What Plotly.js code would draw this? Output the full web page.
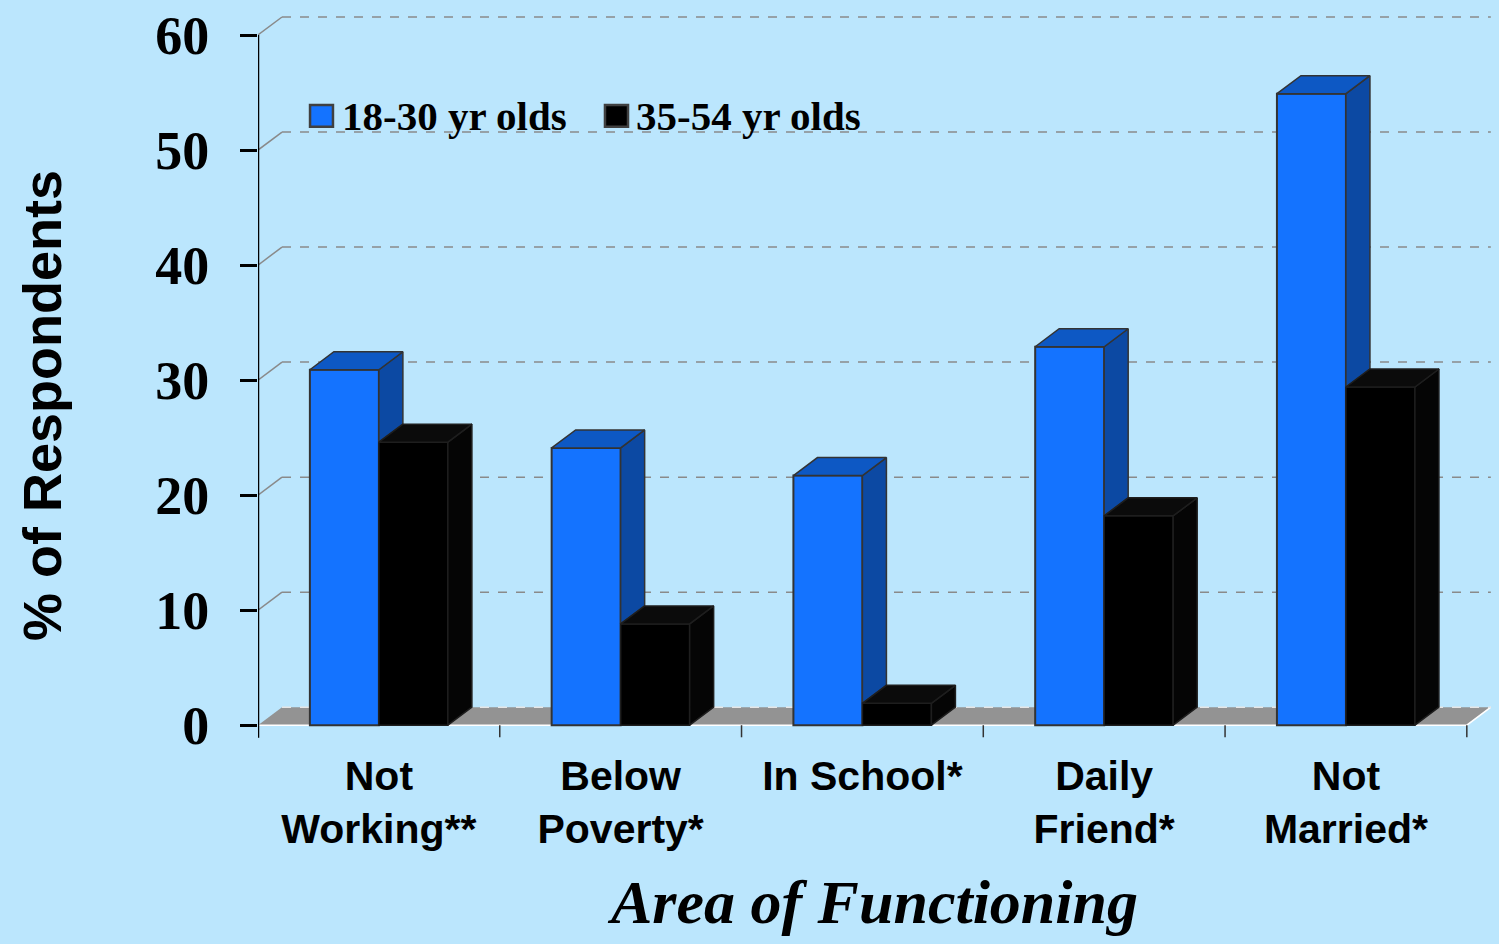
<!DOCTYPE html>
<html>
<head>
<meta charset="utf-8">
<script src="https://cdn.plot.ly/plotly-3.0.1.min.js"></script>
<style>
  html, body { margin: 0; padding: 0; background: #BBE6FD; }
  #chart { width: 1499px; height: 944px; }
</style>
</head>
<body>
<div id="chart"></div>
<script>
// ---- data ----
const categories = ['Not<br>Working**', 'Below<br>Poverty*', 'In School*', 'Daily<br>Friend*', 'Not<br>Married*'];
const young = [30.9, 24.1, 21.7, 32.9, 54.9];   // 18-30 yr olds
const older = [24.6, 8.8, 1.9, 18.2, 29.4];     // 35-54 yr olds
const seriesNames = ['18-30 yr olds', '35-54 yr olds'];
const yTicks = [0, 10, 20, 30, 40, 50, 60];
const yTitle = '% of Respondents';
const xTitle = 'Area of Functioning';

// ---- 3D look parameters (style) ----
const W = 0.2854;   // bar width in category units
const DX = 0.0993;  // depth offset (x, category units)
const DY = 1.565;   // depth offset (y, value units)
const BG = '#BBE6FD';
const BLUE = '#1473FF', BLUE_TOP = '#0D58C4', BLUE_SIDE = '#0C49A3';
const BLK = '#000000', BLK_TOP = '#0B0B0B', BLK_SIDE = '#050505';

const idx = categories.map((_, i) => i);
const xMin = -0.5, xMax = categories.length - 0.5;

function poly(list) {
  const xs = [], ys = [];
  list.forEach(p => { p.forEach(q => { xs.push(q[0]); ys.push(q[1]); }); xs.push(p[0][0]); ys.push(p[0][1]); xs.push(null); ys.push(null); });
  return {xs, ys};
}
function topFace(left, v) {
  return [[left, v], [left + W, v], [left + W + DX, v + DY], [left + DX, v + DY]];
}
function sideFace(right, low, v) {
  return [[right, low], [right + DX, low + DY], [right + DX, v + DY], [right, v]];
}

const blueSide = poly(idx.filter(i => young[i] > older[i]).map(i => sideFace(i, Math.max(older[i], 0), young[i])));
const blueTop = poly(idx.map(i => topFace(i - W, young[i])));
const blackSide = poly(idx.map(i => sideFace(i + W, 0, older[i])));
const blackTop = poly(idx.map(i => topFace(i, older[i])));

function faceTrace(p, fill, line, name) {
  return {type: 'scatter', mode: 'lines', x: p.xs, y: p.ys, fill: 'toself', fillcolor: fill,
          line: {color: line, width: 1.5}, hoverinfo: 'skip', showlegend: false, name: name};
}

const traces = [
  {type: 'bar', name: seriesNames[0], x: idx, y: young, width: W, offset: -W,
   marker: {color: BLUE, line: {color: '#333333', width: 2}}, showlegend: false},
  {type: 'bar', name: seriesNames[1], x: idx, y: older, width: W, offset: 0,
   marker: {color: BLK, line: {color: '#1e1e1e', width: 1.5}}, showlegend: false},
  faceTrace(blueSide, BLUE_SIDE, '#333333', 'side1'),
  faceTrace(blueTop, BLUE_TOP, '#333333', 'top1'),
  faceTrace(blackSide, BLK_SIDE, '#1e1e1e', 'side2'),
  faceTrace(blackTop, BLK_TOP, '#1e1e1e', 'top2')
];

// ---- back wall gridlines, floor, axis line (built from tick values / category count) ----
const shapes = [];
shapes.push({type: 'path', xref: 'x', yref: 'y', layer: 'below',
  path: `M${xMin},0 L${xMax},0 L${xMax + DX},${DY} L${xMin + DX},${DY} Z`,
  fillcolor: '#939393', line: {width: 0}});
shapes.push({type: 'path', xref: 'x', yref: 'y', layer: 'below',
  path: `M${xMin},0 L${xMax},0 L${xMax + DX},${DY}`, line: {color: '#FFFFFF', width: 1.5}});
yTicks.forEach(v => {
  shapes.push({type: 'line', xref: 'x', yref: 'y', layer: 'below',
    x0: xMin + DX, x1: xMax + DX, y0: v + DY, y1: v + DY,
    line: {color: v === 0 ? '#E6E6E6' : '#8A8A8A', width: 1.5, dash: 'dash'}});
  if (v > 0) shapes.push({type: 'line', xref: 'x', yref: 'y', layer: 'below',
    x0: xMin, x1: xMin + DX, y0: v, y1: v + DY, line: {color: '#8A8A8A', width: 1.5}});
});
// category boundary tick marks
for (let b = 0; b <= categories.length; b++) {
  shapes.push({type: 'line', xref: 'x', yref: 'y', x0: xMin + b, x1: xMin + b, y0: 0, y1: -1.05,
    line: {color: '#333333', width: 1.5}});
}
// y axis line
shapes.push({type: 'line', xref: 'x', yref: 'y', x0: xMin, x1: xMin, y0: -1.1, y1: yTicks[yTicks.length - 1],
  line: {color: '#000000', width: 2.5}});

// ---- manual legend (paper coords) ----
const legendItems = [
  {x0: 0.0422, x1: 0.0608, tx: 0.0665, color: BLUE},
  {x0: 0.2814, x1: 0.3001, tx: 0.3050, color: BLK}
];
const annotations = [];
legendItems.forEach((it, k) => {
  shapes.push({type: 'rect', xref: 'paper', yref: 'paper', x0: it.x0, x1: it.x1, y0: 0.842, y1: 0.872,
    fillcolor: it.color, line: {color: '#404040', width: 2.5}});
  annotations.push({xref: 'paper', yref: 'paper', x: it.tx, y: 0.857, xanchor: 'left', yanchor: 'middle',
    text: seriesNames[k], showarrow: false,
    font: {family: 'Liberation Serif', size: 41, weight: 'bold', color: '#000'}});
});
// y axis title (placed as rotated annotation to match the reference position)
annotations.push({xref: 'paper', yref: 'paper', x: -0.1752, y: 0.4594, xanchor: 'center', yanchor: 'middle',
  text: yTitle, textangle: -90, showarrow: false,
  font: {family: 'Liberation Sans', size: 54, weight: 'bold', color: '#000'}});

const layout = {
  width: 1499, height: 944,
  paper_bgcolor: BG, plot_bgcolor: BG,
  margin: {l: 258, r: 8, t: 12, b: 205},
  barmode: 'overlay',
  showlegend: false,
  xaxis: {
    range: [xMin, xMax + 0.1], tickmode: 'array', tickvals: idx, ticktext: categories,
    ticks: '', showgrid: false, zeroline: false, showline: false, fixedrange: true,
    tickfont: {family: 'Liberation Sans', size: 41, weight: 'bold', color: '#000'},
    ticklabelstandoff: 9,
    title: {text: xTitle, standoff: 28,
      font: {family: 'Liberation Serif', size: 62, weight: 'bold', style: 'italic', color: '#000'}}
  },
  yaxis: {
    range: [-1.2, 62], tickmode: 'array', tickvals: yTicks, ticktext: yTicks.map(String),
    ticks: 'outside', ticklen: 17, tickwidth: 3, tickcolor: '#000',
    showgrid: false, zeroline: false, showline: false, fixedrange: true,
    tickfont: {family: 'Liberation Serif', size: 54, weight: 'bold', color: '#000'},
    ticklabelstandoff: 20
  },
  shapes: shapes,
  annotations: annotations
};

Plotly.newPlot('chart', traces, layout, {displayModeBar: false, staticPlot: true});
</script>
</body>
</html>
